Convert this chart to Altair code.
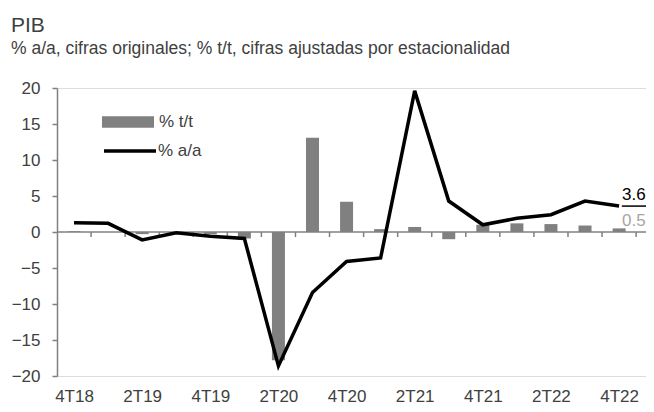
import json
import altair as alt
import pandas as pd

quarters = ["4T18", "1T19", "2T19", "3T19", "4T19", "1T20", "2T20", "3T20", "4T20",
            "1T21", "2T21", "3T21", "4T21", "1T22", "2T22", "3T22", "4T22"]
tt = [0.1, 0.0, -0.3, -0.2, -0.3, -0.9, -17.8, 13.1, 4.2, 0.4, 0.7, -1.0, 1.0, 1.2, 1.1, 0.9, 0.5]
aa = [1.3, 1.2, -1.1, -0.1, -0.6, -0.9, -18.6, -8.4, -4.1, -3.6, 19.6, 4.3, 1.0, 1.9, 2.4, 4.3, 3.6]
y_ticks = [-20, -15, -10, -5, 0, 5, 10, 15, 20]
label_idx = list(range(0, len(quarters), 2))

FONT = "Liberation Sans"
TXT = "#404040"
GRAY = "#808080"
last = len(quarters) - 1
xmin, xmax = -0.5, last + 0.79

df = pd.DataFrame({"i": range(len(quarters)), "q": quarters, "tt": tt, "aa": aa,
                   "s_tt": "% t/t", "s_aa": "% a/a"})
ticks_df = pd.DataFrame({"x": [i + 0.5 for i in range(len(quarters))], "y": 0.0, "y2": -0.7})
zero_df = pd.DataFrame({"x": [xmin], "x2": [xmax], "y": [0.0]})
end_df = pd.DataFrame({"x": [last, last], "y": [aa[-1], 0.0],
                       "t": [f"{aa[-1]:.1f}", f"{tt[-1]:.1f}"],
                       "c": ["black", "#a6a6a6"]})
lead_df = pd.DataFrame({"x": [last + 0.08], "x2": [xmax], "y": [aa[-1]]})

xscale = alt.Scale(domain=[xmin, xmax], nice=False, zero=False, padding=0)
yscale = alt.Scale(domain=[-20, 20], nice=False, padding=0)

xaxis = alt.Axis(values=label_idx, labelExpr=f"{json.dumps(quarters)}[datum.value]",
                 ticks=False, domain=False, grid=False, title=None, labelOverlap=False,
                 labelFontSize=17, labelColor=TXT, labelFont=FONT, labelPadding=12)
yaxis = alt.Axis(values=y_ticks, grid=False, title=None, tickSize=5, tickColor=GRAY,
                 domainColor=GRAY, domainWidth=1.5, tickWidth=1.5, labelOverlap=False,
                 labelFontSize=17, labelColor=TXT, labelFont=FONT, labelPadding=12)


def X(field):
    return alt.X(field, scale=xscale, axis=xaxis)


def Y(field):
    return alt.Y(field, scale=yscale, axis=yaxis)


bars = alt.Chart(df).mark_bar(size=13).encode(
    x=X("i:Q"),
    y=Y("tt:Q"),
    color=alt.Color("s_tt:N", scale=alt.Scale(domain=["% t/t"], range=[GRAY]),
                    legend=alt.Legend(orient="none", legendX=45, legendY=8, title=None,
                                      symbolType="M-1,-0.22H1V0.22H-1Z", symbolSize=2704,
                                      symbolStrokeWidth=0, labelFontSize=17, labelColor=TXT,
                                      labelFont=FONT, labelOffset=5, padding=0)),
)

zero = alt.Chart(zero_df).mark_rule(color=GRAY, strokeWidth=1.5).encode(
    x=X("x:Q"), x2="x2:Q", y=Y("y:Q"))

tks = alt.Chart(ticks_df).mark_rule(color=GRAY, strokeWidth=1.5).encode(
    x=X("x:Q"), y=Y("y:Q"), y2="y2:Q")

line = alt.Chart(df).mark_line(strokeWidth=3.5).encode(
    x=X("i:Q"),
    y=Y("aa:Q"),
    stroke=alt.Stroke("s_aa:N", scale=alt.Scale(domain=["% a/a"], range=["black"]),
                      legend=alt.Legend(orient="none", legendX=45, legendY=35, title=None,
                                        symbolType="stroke", symbolSize=2704,
                                        symbolStrokeWidth=3.5, labelFontSize=17, labelColor=TXT,
                                        labelFont=FONT, labelOffset=0, padding=0)),
)

end_txt = alt.Chart(end_df).mark_text(align="left", baseline="bottom", dx=3, dy=-2,
                                      fontSize=17, font=FONT).encode(
    x=X("x:Q"), y=Y("y:Q"), text="t:N",
    color=alt.Color("c:N", scale=None))

lead = alt.Chart(lead_df).mark_rule(color="black", strokeWidth=1.5).encode(
    x=X("x:Q"), x2="x2:Q", y=Y("y:Q"))

chart = alt.layer(bars, zero, tks, line, lead, end_txt).resolve_scale(
    color="independent"
).properties(
    width=589, height=288,
    autosize=alt.AutoSizeParams(type="none"),
    padding={"left": 49, "top": 80, "right": 0, "bottom": 28},
    title=alt.TitleParams(text="PIB",
                          subtitle="% a/a, cifras originales; % t/t, cifras ajustadas por estacionalidad",
                          anchor="start", frame="group", dx=-46, offset=22,
                          font=FONT, fontSize=21, fontWeight="normal", color=TXT,
                          subtitleFont=FONT, subtitleFontSize=17.5, subtitleColor=TXT,
                          subtitlePadding=4),
).configure_view(stroke=None).configure(background="white")

chart.save("out.html", embed_options={"renderer": "svg", "actions": False})
